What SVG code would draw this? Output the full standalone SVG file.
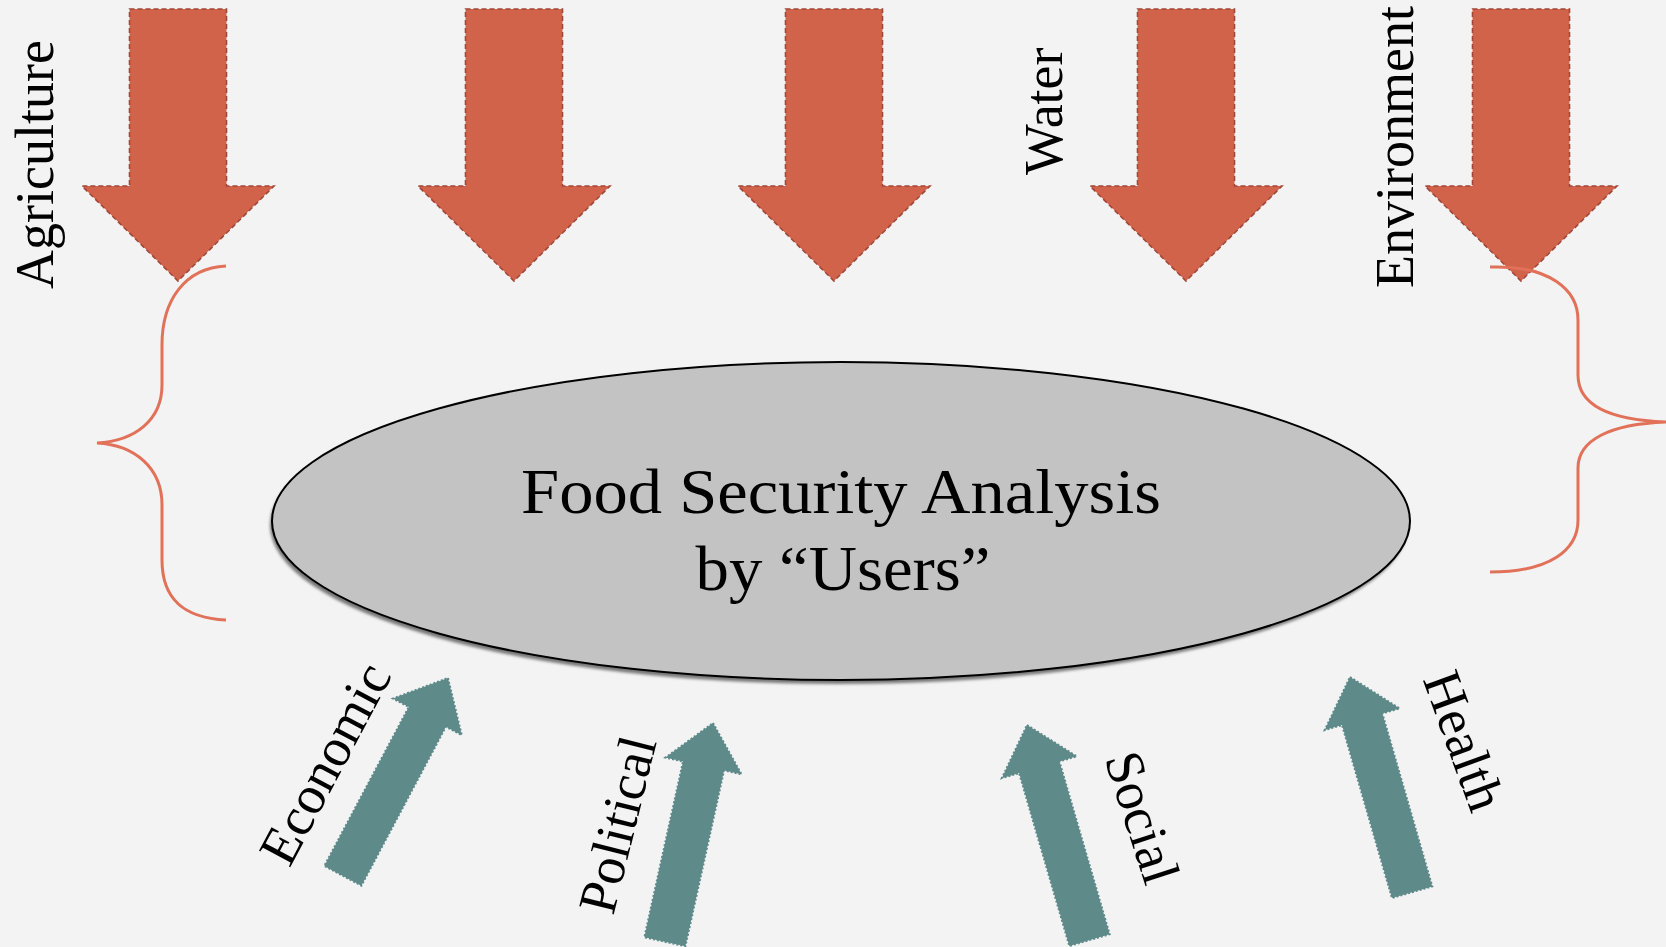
<svg xmlns="http://www.w3.org/2000/svg" width="1666" height="947" viewBox="0 0 1666 947">
<style>
.lbl{font-family:"Liberation Serif","Times New Roman",serif;font-size:54px;fill:#000}
.main{font-family:"Liberation Serif","Times New Roman",serif;font-size:64px;fill:#000;text-anchor:middle}
.down{fill:#d06349;stroke:#a3463a;stroke-width:1.6;stroke-dasharray:5 3}
.up{fill:#5f8a8a;stroke:#5f8a8a;stroke-width:2;stroke-dasharray:2 2}
.brace{fill:none;stroke:#e27159;stroke-width:3}
</style>
<defs>
<filter id="blur" x="-5%" y="-5%" width="110%" height="110%"><feGaussianBlur stdDeviation="1.6"/></filter>
<polygon id="uparrow" points="0,0 39,44 21,44 21,224 -21,224 -21,44 -39,44"/>
</defs>
<rect width="1666" height="947" fill="#f3f3f3"/>
<g id="down-arrows">
<g id="agriculture">
<polygon class="down" points="129.5,9 226.5,9 226.5,186 274,186 178,281 82,186 129.5,186"/>
<text class="lbl" transform="translate(53,289) rotate(-90)">Agriculture</text>
</g>
<g id="arrow2"><polygon class="down" points="465.5,9 562.5,9 562.5,186 610,186 514,281 418,186 465.5,186"/></g>
<g id="arrow3"><polygon class="down" points="785.5,9 882.5,9 882.5,186 930,186 834,281 738,186 785.5,186"/></g>
<g id="water">
<polygon class="down" points="1137.5,9 1234.5,9 1234.5,186 1282,186 1186,281 1090,186 1137.5,186"/>
<text class="lbl" transform="translate(1062,175) rotate(-90)">Water</text>
</g>
<g id="environment">
<polygon class="down" points="1472.5,9 1569.5,9 1569.5,186 1617,186 1521,281 1425,186 1472.5,186"/>
<text class="lbl" transform="translate(1413,288) rotate(-90)">Environment</text>
</g>
</g>
<g id="braces">
<path class="brace" d="M226,266 C185,268 162,300 162,345 L162,385 C162,420 135,441 97,443 C135,445 162,468 162,505 L162,560 C162,600 185,618 226,620"/>
<path class="brace" d="M1490,267 C1550,265 1578,290 1578,320 L1578,375 C1578,405 1610,420 1666,422 C1610,424 1578,440 1578,468 L1578,520 C1578,550 1550,572 1490,572"/>
</g>
<g id="center">
<ellipse cx="839" cy="525" rx="569" ry="159" fill="#777" filter="url(#blur)"/>
<ellipse cx="841" cy="521" rx="569" ry="159" fill="#c3c3c3" stroke="#000" stroke-width="2"/>
<text class="main" x="841" y="513" textLength="640" lengthAdjust="spacingAndGlyphs">Food Security Analysis</text>
<text class="main" x="843" y="590" textLength="295" lengthAdjust="spacingAndGlyphs">by “Users”</text>
</g>
<g id="up-arrows">
<g id="economic">
<use href="#uparrow" class="up" transform="translate(448,678) rotate(28)"/>
<text class="lbl" text-anchor="middle" transform="translate(341,772) rotate(-62)">Economic</text>
</g>
<g id="political">
<use href="#uparrow" class="up" transform="translate(713,723) rotate(12.4)"/>
<text class="lbl" text-anchor="middle" transform="translate(635,829) rotate(-76)">Political</text>
</g>
<g id="social">
<use href="#uparrow" class="up" transform="translate(1027,725) rotate(-16.2)"/>
<text class="lbl" text-anchor="middle" transform="translate(1125,823) rotate(72)">Social</text>
</g>
<g id="health">
<use href="#uparrow" class="up" transform="translate(1350,677) rotate(-16.1)"/>
<text class="lbl" text-anchor="middle" transform="translate(1447,747) rotate(70)">Health</text>
</g>
</g>
</svg>
